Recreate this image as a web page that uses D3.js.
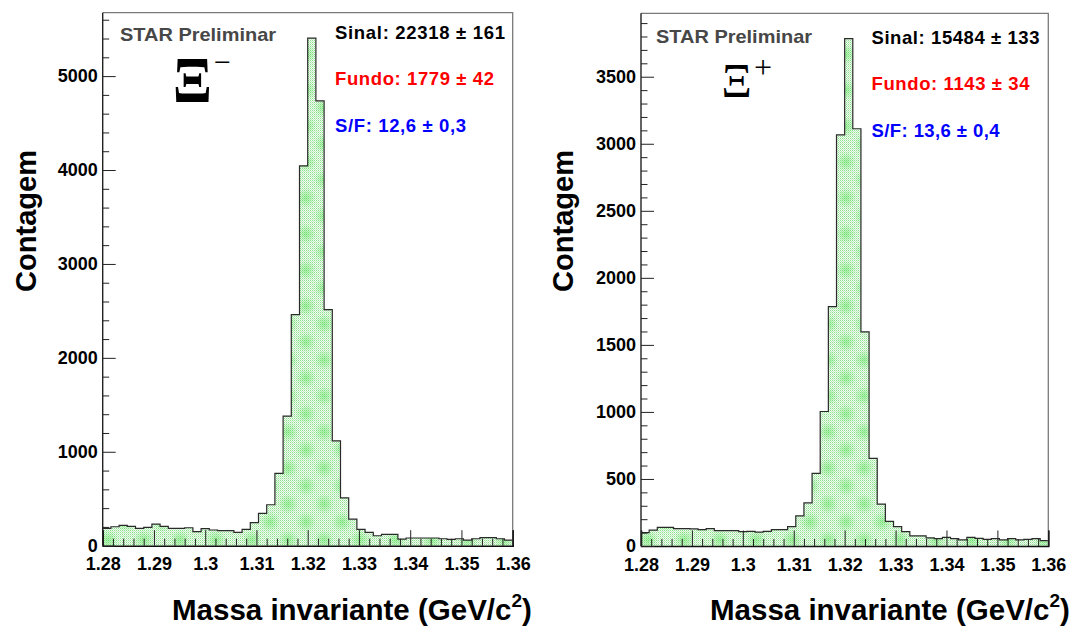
<!DOCTYPE html>
<html>
<head>
<meta charset="utf-8">
<script src="https://cdn.jsdelivr.net/npm/d3@7"></script>
<style>
  body { margin: 0; background: #fff; }
  svg { display: block; }
</style>
</head>
<body>
<svg id="chart" width="1071" height="627" font-family="Liberation Sans, Arial, Helvetica, sans-serif"></svg>
<script>
// Invariant-mass histograms, 50 bins from 1.28 to 1.36 GeV/c^2
const massLow = 1.28;
const massHigh = 1.36;
const binCount = 50;

const xiMinusCounts = [
  184, 202, 216, 206, 184, 195, 230, 206, 184, 184,
  191, 149, 181, 167, 160, 160, 142, 174, 245, 344,
  436, 770, 1380, 2460, 4045, 5405, 4736, 2514, 1117, 510,
  284, 174, 142, 106, 121, 121, 71, 82, 82, 82,
  82, 74, 67, 74, 60, 74, 85, 85, 74, 60
];

const xiPlusCounts = [
  100, 119, 139, 139, 129, 129, 127, 122, 129, 114,
  114, 114, 107, 109, 104, 109, 122, 122, 144, 224,
  321, 542, 1003, 1786, 3067, 3784, 3112, 1597, 654, 313,
  184, 144, 107, 75, 75, 60, 55, 65, 55, 45,
  65, 57, 50, 55, 45, 55, 45, 50, 55, 40
];

const massTicks = [1.28, 1.29, 1.30, 1.31, 1.32, 1.33, 1.34, 1.35, 1.36];
const massTickLabels = ["1.28", "1.29", "1.3", "1.31", "1.32", "1.33", "1.34", "1.35", "1.36"];

const xiMinusCountTicks = [0, 1000, 2000, 3000, 4000, 5000];
const xiPlusCountTicks = [0, 500, 1000, 1500, 2000, 2500, 3000, 3500];

const xiMinusStats = ["Sinal: 22318 \u00b1 161", "Fundo: 1779 \u00b1 42", "S/F: 12,6 \u00b1 0,3"];
const xiPlusStats = ["Sinal: 15484 \u00b1 133", "Fundo: 1143 \u00b1 34", "S/F: 13,6 \u00b1 0,4"];
const statColors = ["#000000", "#ff0000", "#0000ff"];

const sans = "'Liberation Sans', Arial, Helvetica, sans-serif";
const serif = "'Liberation Serif', 'Times New Roman', 'DejaVu Serif', serif";

const svg = d3.select("#chart");
const defs = svg.append("defs");

// fine dotted green fill
const dots = defs.append("pattern")
  .attr("id", "dots").attr("patternUnits", "userSpaceOnUse")
  .attr("width", 2).attr("height", 2);
dots.append("rect").attr("width", 2).attr("height", 2).attr("fill", "#eefbee");
dots.append("rect").attr("x", 0).attr("y", 0).attr("width", 1).attr("height", 1).attr("fill", "#8ae28a");
dots.append("rect").attr("x", 1).attr("y", 1).attr("width", 1).attr("height", 1).attr("fill", "#c6ecc6");

// brighter green blotches in the dotted fill
const glow = defs.append("radialGradient").attr("id", "glow");
glow.append("stop").attr("offset", "0%").attr("stop-color", "#4fe04f").attr("stop-opacity", 0.45);
glow.append("stop").attr("offset", "100%").attr("stop-color", "#4fe04f").attr("stop-opacity", 0);
const blotch = defs.append("pattern")
  .attr("id", "blotch").attr("patternUnits", "userSpaceOnUse")
  .attr("width", 36).attr("height", 36);
[[0, 0], [36, 0], [0, 36], [36, 36], [18, 18]].forEach(([cx, cy]) => {
  blotch.append("circle").attr("cx", cx).attr("cy", cy).attr("r", 10).attr("fill", "url(#glow)");
});

function drawPanel(cfg) {
  const { left, right, top, bottom } = cfg.frame;
  const g = svg.append("g");

  const x = d3.scaleLinear().domain([massLow, massHigh]).range([left, right]);
  const y = d3.scaleLinear().domain([0, cfg.yMax]).range([bottom, top]);
  const binWidth = (massHigh - massLow) / binCount;

  const pts = cfg.counts.map((c, i) => [massLow + i * binWidth, c]);
  pts.push([massHigh, cfg.counts[cfg.counts.length - 1]]);

  const area = d3.area().curve(d3.curveStepAfter)
    .x(d => x(d[0])).y0(y(0)).y1(d => y(d[1]));
  const line = d3.line().curve(d3.curveStepAfter)
    .x(d => x(d[0])).y(d => y(d[1]));

  g.append("path").attr("d", area(pts)).attr("fill", "url(#dots)");
  g.append("path").attr("d", area(pts)).attr("fill", "url(#blotch)");
  g.append("path").attr("d", line(pts)).attr("fill", "none")
    .attr("stroke", "#2a2a2a").attr("stroke-width", 1.2);

  // frame (top and right)
  g.append("path")
    .attr("d", `M${left},${top}H${right}V${bottom}`)
    .attr("fill", "none").attr("stroke", "#7a7a7a").attr("stroke-width", 1.3);

  // x axis: minor and major ticks pointing inward
  const minorX = d3.range(0, 41).map(i => massLow + i * 0.002).filter((v, i) => i % 5 !== 0);
  g.append("g").attr("transform", `translate(0,${bottom})`)
    .call(d3.axisBottom(x).tickValues(minorX).tickSize(-7).tickFormat(""))
    .call(a => a.select(".domain").remove())
    .call(a => a.selectAll("line").attr("stroke", "#222"));
  g.append("g").attr("transform", `translate(0,${bottom})`)
    .call(d3.axisBottom(x).tickValues(massTicks).tickSize(-15.5).tickPadding(12)
      .tickFormat((d, i) => massTickLabels[i]))
    .call(a => a.select(".domain").attr("stroke", "#111").attr("stroke-width", 1.6))
    .call(a => a.selectAll("line").attr("stroke", "#222"))
    .call(a => a.selectAll("text").attr("font-size", 18).attr("font-weight", "bold")
      .attr("fill", "#000").style("font-family", sans));

  // y axis
  const minorY = d3.range(0, cfg.yMax, cfg.yMinor).filter(v => v % cfg.yMajor !== 0);
  g.append("g").attr("transform", `translate(${left},0)`)
    .call(d3.axisLeft(y).tickValues(minorY).tickSize(-6.5).tickFormat(""))
    .call(a => a.select(".domain").remove())
    .call(a => a.selectAll("line").attr("stroke", "#222"));
  g.append("g").attr("transform", `translate(${left},0)`)
    .call(d3.axisLeft(y).tickValues(cfg.yTicks).tickSize(-13).tickPadding(5).tickFormat(d3.format("d")))
    .call(a => a.select(".domain").attr("d", `M0,${top}V${bottom}`).attr("stroke", "#222").attr("stroke-width", 1.4))
    .call(a => a.selectAll("line").attr("stroke", "#222"))
    .call(a => a.selectAll("text").attr("font-size", 18).attr("font-weight", "bold")
      .attr("fill", "#000").style("font-family", sans));

  // axis titles
  g.append("text")
    .attr("transform", `translate(${cfg.yTitleX},221) rotate(-90)`)
    .attr("text-anchor", "middle").attr("font-size", 29.5).attr("font-weight", "bold")
    .attr("textLength", 142).attr("lengthAdjust", "spacingAndGlyphs")
    .style("font-family", sans)
    .text("Contagem");
  const xt = g.append("text").attr("x", cfg.xTitleX).attr("y", 620)
    .attr("font-size", 29.5).attr("font-weight", "bold").style("font-family", sans);
  xt.append("tspan").text("Massa invariante (GeV/c");
  xt.append("tspan").attr("font-size", 19).attr("dy", -13).text("2");
  xt.append("tspan").attr("dy", 13).text(")");

  // labels inside the frame
  g.append("text").attr("x", cfg.starX).attr("y", cfg.starY)
    .attr("font-size", 19).attr("font-weight", "bold").attr("fill", "#474747")
    .attr("textLength", 156).attr("lengthAdjust", "spacingAndGlyphs")
    .style("font-family", sans)
    .text("STAR Preliminar");
  cfg.stats.forEach((s, i) => {
    g.append("text").attr("x", cfg.statX).attr("y", cfg.statY[i])
      .attr("font-size", 18.5).attr("font-weight", "bold").attr("fill", statColors[i])
      .attr("textLength", cfg.statLen[i]).attr("lengthAdjust", "spacing")
      .style("font-family", sans)
      .text(s);
  });

  // particle symbol
  g.append("text")
    .attr("transform", `translate(${cfg.xi.x},${cfg.xi.y}) scale(${cfg.xi.sx},1)`)
    .style("font-family", serif)
    .attr("font-size", cfg.xi.size).attr("font-weight", cfg.xi.weight)
    .text("\u039e");
  g.append("text")
    .attr("x", cfg.xi.supX).attr("y", cfg.xi.supY)
    .style("font-family", serif)
    .attr("font-size", cfg.xi.supSize)
    .text(cfg.xi.sup);
}

drawPanel({
  counts: xiMinusCounts,
  yMax: 5675, yTicks: xiMinusCountTicks, yMajor: 1000, yMinor: 200,
  frame: { left: 102.7, right: 512.7, top: 12.7, bottom: 545.7 },
  yTitleX: 36, xTitleX: 172,
  starX: 120, starY: 40.5,
  stats: xiMinusStats, statX: 335, statY: [38.5, 85, 131.5], statLen: [170, 159, 131],
  xi: { x: 173, y: 101.5, sx: 0.88, size: 65, weight: "bold",
        sup: "\u2212", supX: 214, supY: 72, supSize: 30 }
});

drawPanel({
  counts: xiPlusCounts,
  yMax: 3973, yTicks: xiPlusCountTicks, yMajor: 500, yMinor: 100,
  frame: { left: 641, right: 1048.3, top: 13.3, bottom: 546 },
  yTitleX: 573, xTitleX: 710,
  starX: 656, starY: 42.5,
  stats: xiPlusStats, statX: 871.5, statY: [43.5, 90, 136.5], statLen: [168, 158, 128],
  xi: { x: 721.5, y: 96.7, sx: 0.98, size: 48, weight: "normal",
        sup: "+", supX: 754, supY: 78, supSize: 32 }
});
</script>
</body>
</html>
